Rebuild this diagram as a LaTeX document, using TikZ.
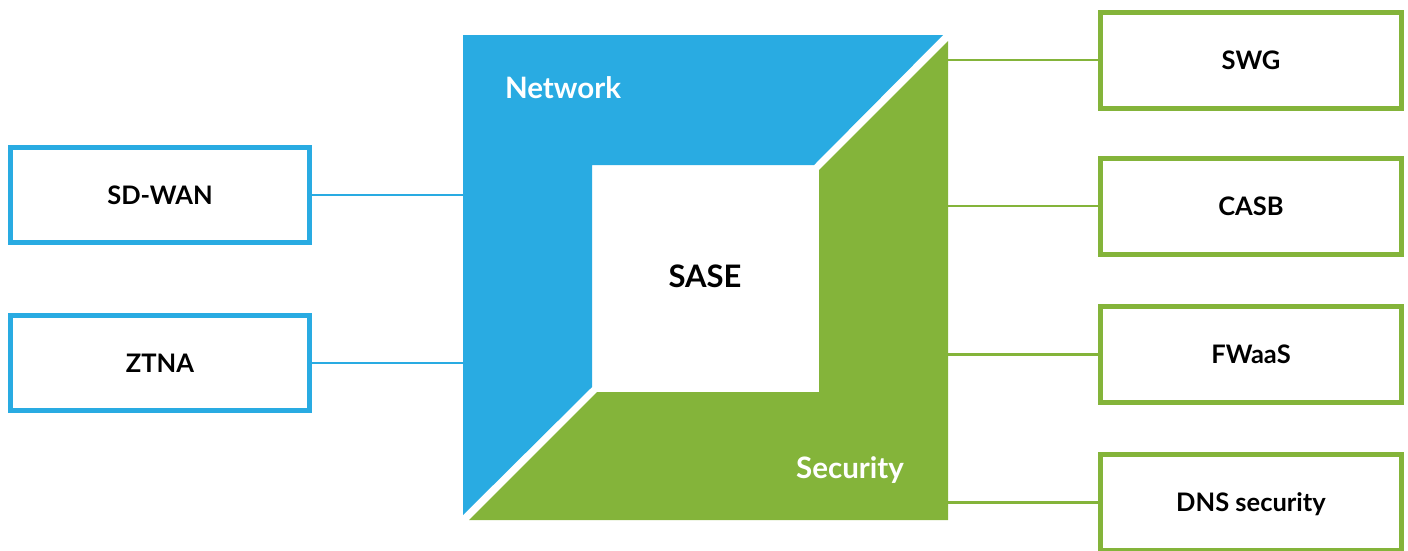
\documentclass[tikz,border=0pt]{standalone}
\usepackage{fontspec}
\setmainfont{Lato}
\definecolor{sblue}{HTML}{29ABE2}
\definecolor{sgreen}{HTML}{84B43A}
\begin{document}
\begin{tikzpicture}[x=1pt,y=-1pt,
  box/.style={draw, line width=5pt, fill=white, minimum width=299pt, minimum height=95pt,
    inner sep=0pt, text height=18pt, text depth=0pt,
    font=\bfseries\fontsize{25.5}{30}\selectfont},
  nbox/.style={box, draw=sblue},
  sbox/.style={box, draw=sgreen, minimum width=301pt, minimum height=96pt},
  nlink/.style={draw=sblue, line width=2.5pt},
  slink/.style={draw=sgreen, line width=2.5pt},
  title/.style={text=white, anchor=base, inner sep=0pt, font=\bfseries\fontsize{29.5}{34}\selectfont}]
\useasboundingbox (0,0) rectangle (1408,550);
% quadrants
\fill[sblue] (463,35) -- (943,35) -- (814,165) -- (592,165) -- (592,387) -- (463,515) -- cycle;
\fill[sgreen] (948,41) -- (948,520) -- (469,520) -- (597,392) -- (819,392) -- (819,170) -- cycle;
\coordinate (netL) at (463,300);
\coordinate (secR) at (948,300);
% labels
\node[title] (net) at (563,98) {Network};
\node[title] (sec) at (850,478) {Security};
\node[anchor=base, inner sep=0pt, font=\bfseries\fontsize{31}{36}\selectfont] (sase) at (705,287) {SASE};
% left boxes
\node[nbox] (sdwan) at (160,195) {SD-WAN};
\node[nbox] (ztna) at (160,363) {ZTNA};
% right boxes
\node[sbox] (swg) at (1251,60) {SWG};
\node[sbox] (casb) at (1251,206) {CASB};
\node[sbox] (fwaas) at (1251,354.5) {FWaaS};
\node[sbox] (dns) at (1251,502.5) {DNS security};
% connectors
\draw[nlink] (sdwan.east) -- (sdwan.east -| netL);
\draw[nlink] (ztna.east) -- (ztna.east -| netL);
\draw[slink] (swg.west) -- (swg.west -| secR);
\draw[slink] (casb.west) -- (casb.west -| secR);
\draw[slink] (fwaas.west) -- (fwaas.west -| secR);
\draw[slink] (dns.west) -- (dns.west -| secR);
\end{tikzpicture}
\end{document}
